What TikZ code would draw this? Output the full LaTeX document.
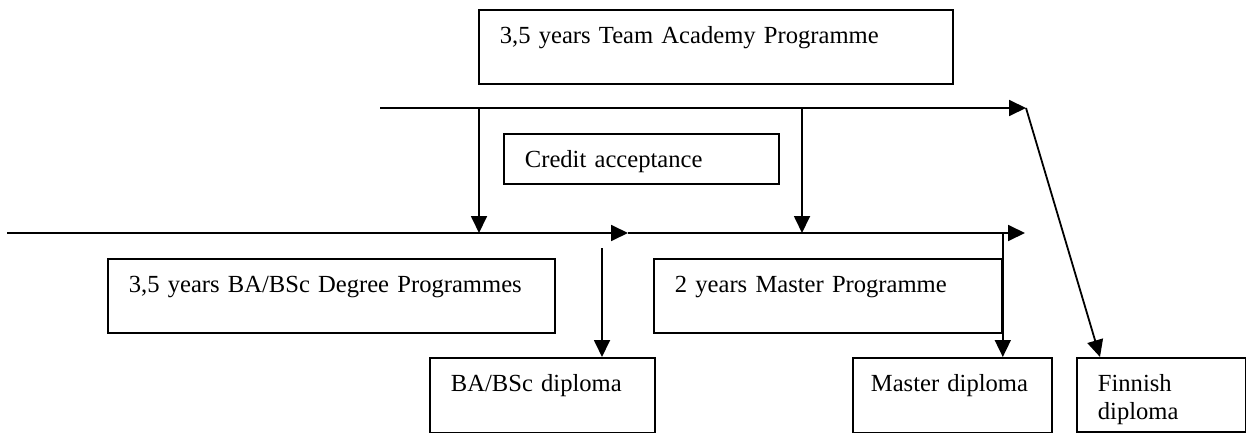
\documentclass[tikz,border=0pt]{standalone}
\usepackage{fontspec}
\setmainfont{Liberation Serif}
\usetikzlibrary{arrows.meta}

\begin{document}
\begin{tikzpicture}[x=0.5pt,y=-0.5pt,line width=0.9pt,>={Triangle[length=8.5pt,width=8pt]},
        box/.style={draw,anchor=north west,inner xsep=10.5pt,inner ysep=0pt,align=left,
            font=\fontsize{12.3}{14}\selectfont,text height=17pt,text depth=20pt}]
            \useasboundingbox (0,0) rectangle (1246,433);

            % draw the programme boxes
            \node[box,text width=216pt] (team) at (478,9) {3,5 years Team Academy Programme};
            \node[box,text width=116.5pt,text depth=8pt] (credit) at (503,133) {Credit acceptance};
            \node[box,text width=202.5pt] (baprog) at (107,258) {3,5 years BA/BSc Degree Programmes};
            \node[box,text width=153pt] (mprog) at (653,258) {2 years Master Programme};

            % draw the diploma boxes
            \node[box,text width=91.5pt,text depth=20.5pt] (badip) at (429,357) {BA/BSc diploma};
            \node[box,inner xsep=9pt,text width=81.5pt,text depth=20.5pt] (mdip) at (852,357) {Master diploma};
            \node[box,text width=63.5pt] (findip) at (1076,357) {Finnish\\diploma};

            % the two time lines
            \coordinate (top0) at (380,108);
            \coordinate (top1) at (1026,108);
            \coordinate (low0) at (7,233);
            \coordinate (lowmid) at (628,233);
            \coordinate (low1) at (1025,233);
            \draw[->] (top0) -- (top1);
            \draw[->] (low0) -- (lowmid);
            \draw[->] (lowmid) -- (low1);

            % credit acceptance arrows
            \coordinate (cr0) at (479,108);
            \coordinate (cr1) at (802,108);
            \draw[->] (cr0) -- (cr0 |- low0);
            \draw[->] (cr1) -- (cr1 |- low0);

            % arrows to the diplomas
            \coordinate (ba0) at (602,248);
            \draw[->] (ba0) -- (ba0 |- badip.north);
            \draw[->] (mprog.east |- low0) -- (mprog.east |- mdip.north);
            \draw[->] (top1) -- ([xshift=12pt]findip.north west);
        \end{tikzpicture}
\end{document}
